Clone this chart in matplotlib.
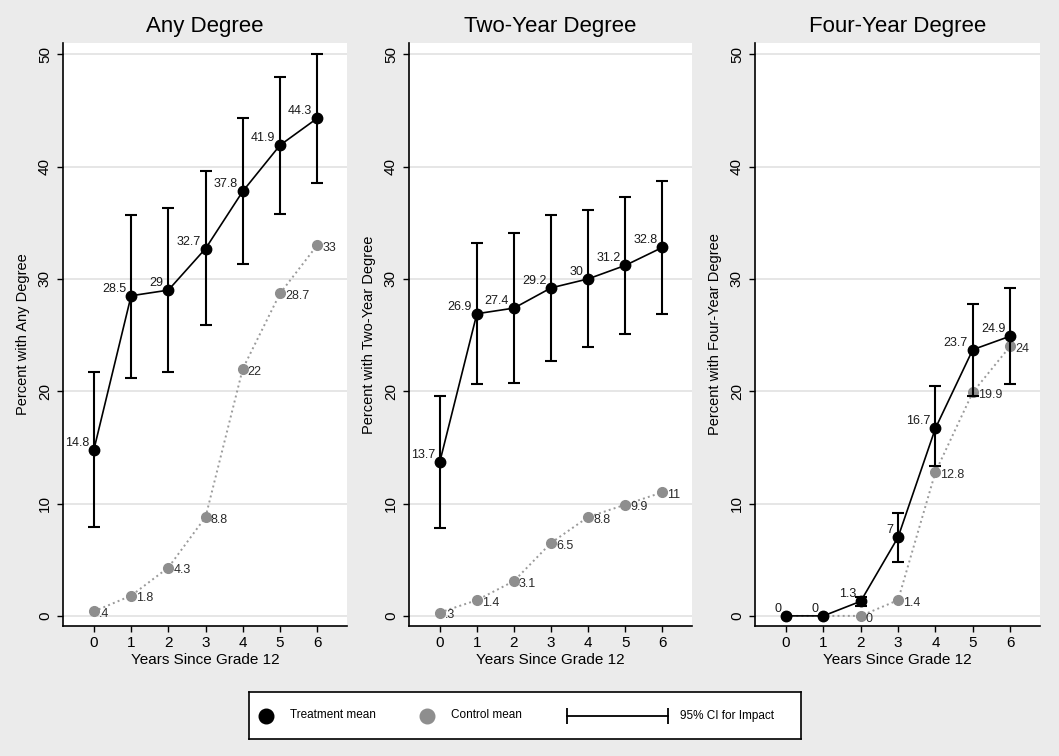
import numpy as np
import matplotlib.pyplot as plt

plt.rcParams['font.family'] = ['Liberation Sans', 'DejaVu Sans']

# Data
years = [0, 1, 2, 3, 4, 5, 6]

titles = ["Any Degree", "Two-Year Degree", "Four-Year Degree"]
ylabels = ["Percent with Any Degree", "Percent with Two-Year Degree",
           "Percent with Four-Year Degree"]

treat_any = [14.8, 28.5, 29, 32.7, 37.8, 41.9, 44.3]
ci_lo_any = [7.9, 21.2, 21.7, 25.9, 31.3, 35.8, 38.5]
ci_hi_any = [21.7, 35.7, 36.3, 39.6, 44.3, 48.0, 50.0]
ctrl_any = [0.4, 1.8, 4.3, 8.8, 22, 28.7, 33]
treat_any_lab = ["14.8", "28.5", "29", "32.7", "37.8", "41.9", "44.3"]
ctrl_any_lab = [".4", "1.8", "4.3", "8.8", "22", "28.7", "33"]

treat_two = [13.7, 26.9, 27.4, 29.2, 30, 31.2, 32.8]
ci_lo_two = [7.8, 20.6, 20.7, 22.7, 23.9, 25.1, 26.9]
ci_hi_two = [19.6, 33.2, 34.1, 35.7, 36.1, 37.3, 38.7]
ctrl_two = [0.3, 1.4, 3.1, 6.5, 8.8, 9.9, 11]
treat_two_lab = ["13.7", "26.9", "27.4", "29.2", "30", "31.2", "32.8"]
ctrl_two_lab = [".3", "1.4", "3.1", "6.5", "8.8", "9.9", "11"]

treat_four = [0, 0, 1.3, 7, 16.7, 23.7, 24.9]
ci_lo_four = [np.nan, np.nan, 0.9, 4.8, 13.3, 19.6, 20.6]
ci_hi_four = [np.nan, np.nan, 1.7, 9.2, 20.5, 27.8, 29.2]
ctrl_four = [0, 0, 0, 1.4, 12.8, 19.9, 24]
treat_four_lab = ["0", "0", "1.3", "7", "16.7", "23.7", "24.9"]
ctrl_four_lab = ["", "", "0", "1.4", "12.8", "19.9", "24"]

panels = [
    (treat_any, ci_lo_any, ci_hi_any, ctrl_any, treat_any_lab, ctrl_any_lab),
    (treat_two, ci_lo_two, ci_hi_two, ctrl_two, treat_two_lab, ctrl_two_lab),
    (treat_four, ci_lo_four, ci_hi_four, ctrl_four, treat_four_lab, ctrl_four_lab),
]

W, H = 1059, 756
bg = '#ebebeb'
gray = '#8e8e8e'
fig = plt.figure(figsize=(W / 100, H / 100), dpi=100, facecolor=bg)

lefts = [63, 409, 755]
rights = [347, 692, 1040]

for i, (tr, lo, hi, ct, tlab, clab) in enumerate(panels):
    ax = fig.add_axes([lefts[i] / W, 130 / H, (rights[i] - lefts[i]) / W, 583 / H])
    ax.set_facecolor('white')
    ax.set_xlim(-0.83, 6.8)
    ax.set_ylim(-0.9, 51)
    ax.set_yticks(range(0, 51, 10))
    ax.set_xticks(years)
    ax.grid(axis='y', color='#e2e2e2', lw=1.2)
    ax.set_axisbelow(True)
    for s in ['top', 'right']:
        ax.spines[s].set_visible(False)
    for s in ['left', 'bottom']:
        ax.spines[s].set_linewidth(1.2)
    ax.tick_params(axis='both', labelsize=11, length=4, width=1, direction='out')
    ax.tick_params(axis='y', labelrotation=90, pad=4)
    for t in ax.get_yticklabels():
        t.set_va('center')
    ax.set_title(titles[i], fontsize=16, pad=8)
    ax.set_xlabel("Years Since Grade 12", fontsize=11, labelpad=2)
    ax.set_ylabel(ylabels[i], fontsize=10.5, labelpad=6)

    # control mean
    ax.plot(years, ct, color='#9a9a9a', ls=':', lw=1.4, marker='o', ms=7,
            mfc=gray, mec=gray, zorder=3)
    # CI for impact
    tr_a = np.array(tr, dtype=float)
    lo_a = np.array(lo, dtype=float)
    hi_a = np.array(hi, dtype=float)
    ax.errorbar(years, tr_a, yerr=[tr_a - lo_a, hi_a - tr_a], fmt='none',
                ecolor='black', elinewidth=1.5, capsize=4.5, capthick=1.5, zorder=4)
    # treatment mean
    ax.plot(years, tr, color='black', lw=1.2, marker='o', ms=7.5, zorder=5)

    for x, v, s in zip(years, tr, tlab):
        ax.annotate(s, (x, v), xytext=(-3.5, 5), textcoords='offset points',
                    ha='right', va='center', fontsize=9, color='#1a1a1a', zorder=6)
    for x, v, s in zip(years, ct, clab):
        if s:
            ax.annotate(s, (x, v), xytext=(3.5, -2), textcoords='offset points',
                        ha='left', va='center', fontsize=9, color='#2a2a2a', zorder=6)

# legend box
lg = fig.add_axes([249 / W, (H - 739) / H, 552 / W, 47 / H])
lg.set_xlim(0, 1)
lg.set_ylim(0, 1)
lg.set_xticks([])
lg.set_yticks([])
lg.set_facecolor('white')
for s in lg.spines.values():
    s.set_linewidth(1.2)
lg.plot([0.031], [0.5], 'o', color='black', ms=10.5)
lg.text(0.074, 0.5, "Treatment mean", va='center', fontsize=8.5)
lg.plot([0.322], [0.5], 'o', color=gray, ms=10.5)
lg.text(0.366, 0.5, "Control mean", va='center', fontsize=8.5)
lg.plot([0.576, 0.759], [0.5, 0.5], color='black', lw=1.3)
lg.plot([0.576, 0.759], [0.5, 0.5], ls='none', marker='|', ms=12, mew=1.3, color='black')
lg.text(0.781, 0.5, "95% CI for Impact", va='center', fontsize=8.5)

fig.savefig("out.png", dpi=100, facecolor=bg)
